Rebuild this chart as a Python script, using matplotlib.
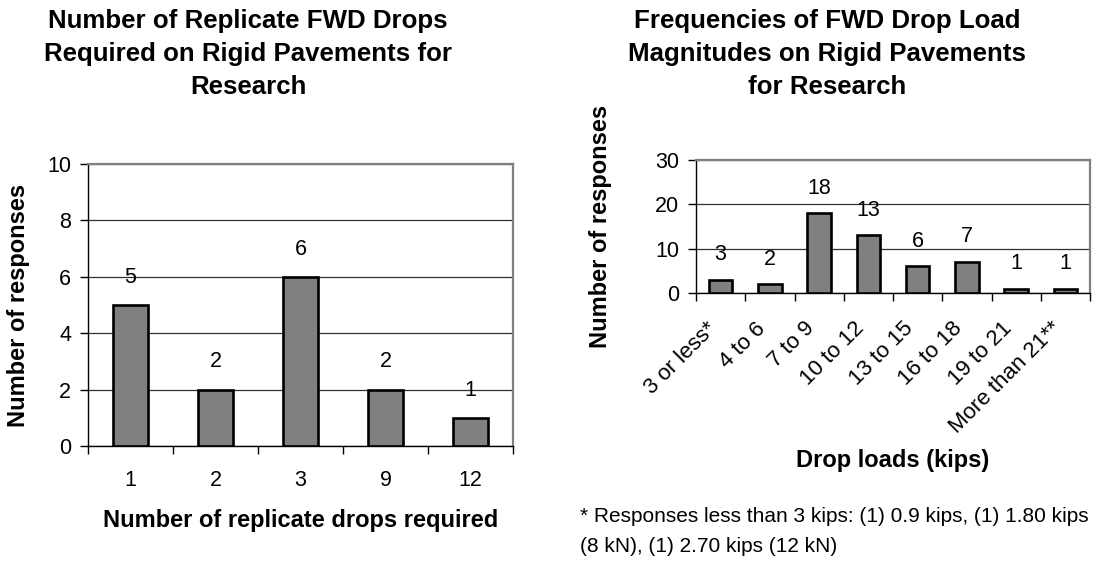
"""Replicate FWD drops and drop-load magnitudes on rigid pavements (survey responses)"""

import numpy as np
import matplotlib
matplotlib.use('Agg')
import matplotlib.pyplot as plt
from matplotlib.transforms import ScaledTranslation

plt.rcParams['font.family'] = ['Liberation Sans', 'DejaVu Sans']

# left chart: number of replicate drops
replicate_drops = ['1', '2', '3', '9', '12']
replicate_counts = [5, 2, 6, 2, 1]

# right chart: drop load bins (kips)
load_bins = ['3 or less*', '4 to 6', '7 to 9', '10 to 12', '13 to 15',
             '16 to 18', '19 to 21', 'More than 21**']
load_counts = [3, 2, 18, 13, 6, 7, 1, 1]

footnote = ['* Responses less than 3 kips: (1) 0.9 kips, (1) 1.80 kips',
            '(8 kN), (1) 2.70 kips (12 kN)']

W, H = 1096, 562


def excel_bars(ax, labels, counts, ymax, ystep, width, label_off, tick_pad, xsize):
    x = np.arange(len(labels))
    ax.bar(x, counts, width=width, color='#808080', edgecolor='black',
           linewidth=1.9, zorder=3)
    ax.set_xlim(-0.5, len(labels) - 0.5)
    ax.set_ylim(0, ymax)
    ax.set_yticks(np.arange(0, ymax + 1, ystep))
    ax.yaxis.grid(True, color='#303030', lw=0.9, zorder=0)
    ax.set_axisbelow(True)

    # excel-style category axis: ticks between categories, labels at centers
    ax.set_xticks(np.arange(len(labels) + 1) - 0.5)
    ax.set_xticklabels([])
    ax.set_xticks(x, minor=True)
    ax.set_xticklabels(labels, minor=True)
    ax.tick_params(axis='x', which='major', length=6, width=1, direction='out')
    ax.tick_params(axis='x', which='minor', length=0, pad=tick_pad, labelsize=xsize)
    ax.tick_params(axis='y', length=5.5, width=1, pad=6.5, labelsize=15.5)

    for s in ['top', 'right']:
        ax.spines[s].set_color('#808080')
        ax.spines[s].set_linewidth(1.6)
    for s in ['left', 'bottom']:
        ax.spines[s].set_color('black')
        ax.spines[s].set_linewidth(1.0)

    for xi, c in zip(x, counts):
        ax.annotate(str(c), (xi, c), xytext=(0, label_off), textcoords='offset points',
                    ha='center', va='center', fontsize=15.5)


fig = plt.figure(figsize=(W / 100, H / 100), dpi=100)

# left panel
ax1 = fig.add_axes([88 / W, 1 - 446 / H, 425 / W, 282 / H])
excel_bars(ax1, replicate_drops, replicate_counts, 10, 2, 0.42, 20, 17, 15.5)
fig.text(248 / W, 1 - 54 / H,
         'Number of Replicate FWD Drops\nRequired on Rigid Pavements for\nResearch',
         ha='center', va='center', fontsize=18.6, fontweight='bold', linespacing=1.45)
fig.text(19 / W, 1 - 305 / H, 'Number of responses', rotation=90,
         ha='center', va='center', fontsize=17, fontweight='bold')
fig.text(301 / W, 1 - 520 / H, 'Number of replicate drops required',
         ha='center', va='center', fontsize=17, fontweight='bold')

# right panel
ax2 = fig.add_axes([696 / W, 1 - 293 / H, 394 / W, 133 / H])
excel_bars(ax2, load_bins, load_counts, 30, 10, 0.48, 18, 18, 16)
for lbl in ax2.get_xticklabels(minor=True):
    lbl.set_rotation(45)
    lbl.set_ha('right')
    lbl.set_va('top')
    lbl.set_rotation_mode('anchor')
    lbl.set_transform(lbl.get_transform() + ScaledTranslation(-0.15, 0, fig.dpi_scale_trans))
fig.text(827 / W, 1 - 54 / H,
         'Frequencies of FWD Drop Load\nMagnitudes on Rigid Pavements\nfor Research',
         ha='center', va='center', fontsize=18.6, fontweight='bold', linespacing=1.45)
fig.text(600 / W, 1 - 226 / H, 'Number of responses', rotation=90,
         ha='center', va='center', fontsize=17, fontweight='bold')
fig.text(893 / W, 1 - 460 / H, 'Drop loads (kips)',
         ha='center', va='center', fontsize=17, fontweight='bold')

fig.text(580 / W, 1 - 516 / H, footnote[0], ha='left', va='center', fontsize=15)
fig.text(580 / W, 1 - 546 / H, footnote[1], ha='left', va='center', fontsize=15)

fig.savefig('out.png', dpi=100)
